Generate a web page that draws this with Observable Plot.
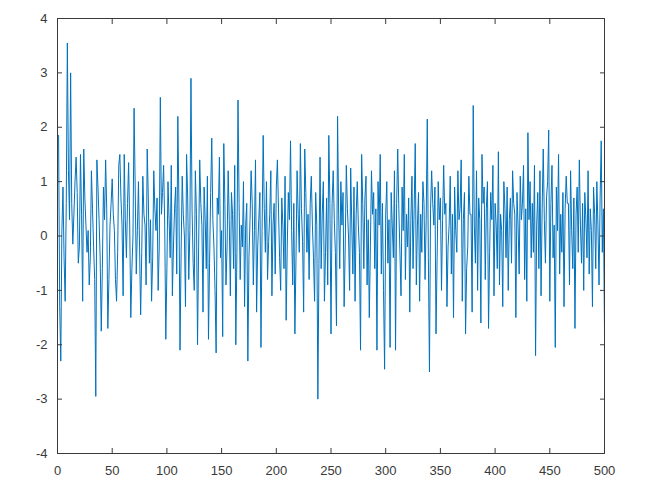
<!DOCTYPE html>
<html>
<head>
<meta charset="utf-8">
<script src="https://cdn.jsdelivr.net/npm/d3@7"></script>
<script src="https://cdn.jsdelivr.net/npm/@observablehq/plot@0.6"></script>
<style>
  html, body { margin: 0; padding: 0; background: #fff; }
</style>
</head>
<body>
<div id="chart"></div>
<script>
const xTicks = [0, 50, 100, 150, 200, 250, 300, 350, 400, 450, 500];
const yTicks = [-4, -3, -2, -1, 0, 1, 2, 3, 4];

const values = [
  1.85, -1.30, -2.30, 0.10, 0.90, -0.40, -1.20, 0.60, 3.55, 1.20,
  0.30, 3.00, 0.60, -0.15, 0.40, 1.00, 1.45, 0.80, -0.50, -0.20,
  1.50, 0.40, -1.20, 1.60, 0.70, 0.20, -0.30, 0.10, -0.90, -0.40,
  1.20, 0.50, -0.20, -0.80, -2.95, 1.40, 0.90, 0.30, -0.40, -1.75,
  -0.60, 0.90, 0.30, 1.40, 0.50, -1.70, -0.80, 0.20, 0.60, 1.05,
  0.40, 0.10, -0.80, -1.20, -0.30, 1.30, 1.50, 0.70, 0.20, -1.10,
  1.50, 0.30, -0.40, 0.60, 1.35, 0.20, -1.50, -0.60, 0.00, 2.35,
  0.90, -0.70, 0.10, 1.00, -0.20, -1.45, -0.30, 1.10, 0.40, 0.20,
  -0.90, 1.60, 0.70, -0.50, 0.30, -1.20, -0.40, 1.20, 0.50, 0.10,
  0.70, -1.00, -0.20, 2.55, 0.40, 0.80, 1.30, 0.20, -1.90, -0.60,
  1.00, 0.30, -0.40, 1.30, -1.10, -0.20, 0.50, 0.90, -0.70, 2.20,
  0.60, -2.10, -0.30, 1.10, 0.40, 0.00, -1.30, 1.50, 0.70, -0.80,
  0.10, 2.90, 0.50, -0.50, -1.00, 1.20, 0.40, -2.00, -0.20, 1.40,
  0.60, 0.20, -1.40, 0.90, 0.30, -0.60, 1.10, -1.90, -0.50, 0.80,
  1.80, 0.30, -0.20, -1.00, -2.15, 0.70, 0.40, 1.45, -0.40, 0.10,
  -1.85, 1.70, 0.60, -0.90, -0.20, 1.20, 0.30, -1.10, 0.80, 0.40,
  -0.60, 1.30, -2.00, -0.30, 2.50, 0.60, -0.80, 0.20, -0.20, 1.00,
  -1.30, 0.20, 0.60, -2.30, -0.40, 0.30, 1.20, 0.60, -0.90, 0.10,
  1.40, -1.40, -0.20, 0.30, 0.80, -2.05, 0.10, 1.85, 0.50, -0.30,
  1.00, -0.80, -0.10, 0.40, 1.20, -1.10, 0.20, 0.60, -0.70, 0.90,
  1.40, 0.50, -0.40, -1.00, 0.70, 0.20, -0.60, 1.10, -1.55, -0.20,
  0.80, 0.30, 1.75, 0.10, -0.90, 0.60, -1.80, -0.40, 1.20, 0.40,
  -0.30, 1.70, 0.50, -0.10, -1.40, 1.60, 0.80, -0.30, 0.40, -0.80,
  0.60, 1.10, 0.20, -0.40, -1.20, 0.80, 0.20, -3.00, -0.50, 1.45,
  -0.60, 0.40, 1.00, -1.20, -0.30, 0.70, -0.90, 1.85, 0.60, -1.80,
  0.60, 1.20, 0.30, -0.30, -1.65, 2.20, 0.40, -0.60, 1.00, 0.20,
  0.80, -1.30, -0.20, 1.30, 0.50, 0.00, -1.00, 1.25, 0.20, -0.70,
  0.90, -1.20, 0.40, 1.00, 0.20, -0.30, -2.10, 1.50, 0.60, -0.60,
  0.70, 1.10, -0.90, 0.30, -1.50, -0.20, 1.20, 0.40, 0.80, -0.60,
  0.50, -2.10, 1.00, 0.20, 1.50, -0.70, 0.60, -1.00, -2.45, 0.40,
  1.00, -0.50, 0.30, -2.05, 0.80, 0.20, -0.40, 1.20, -2.10, 0.60,
  1.60, 0.50, -0.30, -1.10, 0.90, 0.10, 1.50, -0.80, 0.40, -0.20,
  0.70, -1.40, 0.30, 1.10, -0.60, 0.50, 1.70, -0.90, 0.20, 0.80,
  -1.20, 0.40, -0.30, 1.00, 0.60, -0.80, 0.30, 2.15, -0.40, -2.50,
  0.50, 1.20, 0.60, 0.20, 0.90, -1.80, -0.40, 1.00, 0.30, 0.70,
  -1.00, 0.30, 1.30, 0.40, 0.60, -1.30, -0.20, 0.20, 1.10, -0.70,
  0.40, -1.50, 0.90, 0.10, -0.30, 1.20, 0.30, 0.50, 1.40, -1.20,
  0.30, 0.80, -1.80, -0.60, -0.20, 1.10, 0.40, 0.40, -1.40, 2.40,
  0.20, -0.50, 1.20, -1.00, 0.70, 0.30, -1.60, 1.50, 0.60, 0.90,
  -0.80, 0.50, 1.00, -1.70, -0.30, 0.80, 0.30, 1.30, -1.10, 0.60,
  0.20, -0.60, 1.55, -0.90, 0.40, 0.10, -1.30, 1.00, 0.50, -0.40,
  0.90, -1.00, 0.30, 0.70, -0.50, 1.20, 0.60, 0.40, -1.50, 0.80,
  0.20, -0.70, 1.10, 0.30, 0.60, 1.30, -0.80, 0.50, -1.20, 1.90,
  0.30, 1.00, -0.40, 0.60, -0.30, 1.30, -2.20, 0.20, 0.80, -0.60,
  1.20, -1.10, 0.50, 1.60, 0.30, -0.50, 0.70, 1.00, 1.95, -1.20,
  0.60, 1.30, -0.40, 0.20, -2.05, 0.90, 0.10, 1.50, -0.70, 0.40,
  -0.30, 0.80, -1.30, 0.50, 1.10, 0.60, 0.60, -0.90, 1.20, 0.10,
  -0.60, 0.70, -1.70, 0.40, 0.90, -0.30, 1.40, 0.20, -0.50, 0.60,
  -1.00, 0.80, 0.30, -0.40, 1.20, -0.70, 0.50, 0.10, -1.30, 0.90,
  0.40, -0.60, 1.00, 0.20, -0.90, 0.70, 1.75, -0.30, 0.50, -1.75
];

const data = values.map((v, i) => ({x: i + 1, y: v}));
const axisColor = "#3a3a3a";
const fmt = d => String(d);

const chart = Plot.plot({
  width: 650,
  height: 494,
  marginLeft: 57,
  marginRight: 46,
  marginTop: 18,
  marginBottom: 41,
  style: {fontFamily: "Liberation Sans, Arial, Helvetica, sans-serif", fontSize: "13px", color: axisColor, background: "#fff"},
  x: {domain: [0, 500]},
  y: {domain: [-4, 4]},
  marks: [
    Plot.line(data, {x: "x", y: "y", stroke: "#0072BD", strokeWidth: 1}),
    Plot.frame({stroke: axisColor, strokeWidth: 1}),
    Plot.axisX(xTicks, {anchor: "bottom", tickSize: -5, tickPadding: 17, tickFormat: fmt, label: null, stroke: axisColor, fill: axisColor}),
    Plot.axisX(xTicks, {anchor: "top", tickSize: -5, tickFormat: () => "", label: null, stroke: axisColor}),
    Plot.axisY(yTicks, {anchor: "left", tickSize: -5, tickPadding: 15, tickFormat: fmt, label: null, stroke: axisColor, fill: axisColor}),
    Plot.axisY(yTicks, {anchor: "right", tickSize: -5, tickFormat: () => "", label: null, stroke: axisColor})
  ]
});
document.getElementById("chart").appendChild(chart);
</script>
</body>
</html>
